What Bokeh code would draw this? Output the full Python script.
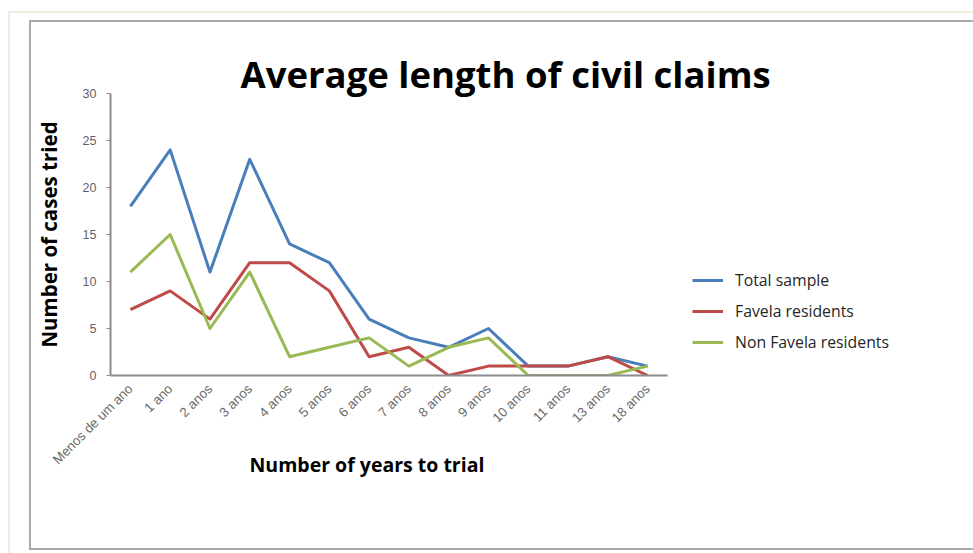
from math import pi

from bokeh.embed import file_html
from bokeh.models import (FixedTicker, InlineStyleSheet, Legend, LegendItem,
                          Range1d, Title)
from bokeh.plotting import figure
from bokeh.resources import INLINE

# Time to trial buckets
categories = ["Menos de um ano", "1 ano", "2 anos", "3 anos", "4 anos", "5 anos",
              "6 anos", "7 anos", "8 anos", "9 anos", "10 anos", "11 anos",
              "13 anos", "18 anos"]

# Number of cases tried per bucket
total_sample = [18, 24, 11, 23, 14, 12, 6, 4, 3, 5, 1, 1, 2, 1]
favela_residents = [7, 9, 6, 12, 12, 9, 2, 3, 0, 1, 1, 1, 2, 0]
non_favela_residents = [11, 15, 5, 11, 2, 3, 4, 1, 3, 4, 0, 0, 0, 1]

y_ticks = [0, 5, 10, 15, 20, 25, 30]

W, H = 973, 553
LEFT, TOP, BOTTOM = 110, 93, 375
AXIS_END = 667            # where the category axis stops
LEGEND_X, LEGEND_BOTTOM = 692, 353

positions = list(range(len(categories)))
x_lo, x_hi = -0.5, len(categories) - 0.5
# the plotting frame runs to the right edge so the legend can sit beside the axis
x_end = x_lo + (x_hi - x_lo) * (W - LEFT) / (AXIS_END - LEFT)

# thin page frames drawn around the chart area
frames = InlineStyleSheet(css="""
:host { position: relative; }
:host::before {
  content: ""; position: absolute; left: 8px; top: 11px; right: 0; bottom: 0;
  border-left: 2px solid #efede2; border-top: 2px solid #efede2;
  pointer-events: none; z-index: 10;
}
:host::after {
  content: ""; position: absolute; left: 29px; top: 20px; right: 0; height: 526px;
  border-left: 2px solid #a9a9a9; border-top: 2px solid #a9a9a9;
  border-bottom: 2px solid #a9a9a9;
  pointer-events: none; z-index: 10;
}
""")

p = figure(
    x_range=Range1d(x_lo, x_end), y_range=Range1d(0, 30),
    width=W, height=H,
    output_backend="svg", toolbar_location=None,
    min_border_left=LEFT, min_border_right=0,
    min_border_top=TOP, min_border_bottom=H - BOTTOM,
    background_fill_color="white", border_fill_color="white",
    stylesheets=[frames],
)
p.outline_line_color = None
p.grid.visible = False

series = [
    ("Total sample", total_sample, "#4a7ebb"),
    ("Favela residents", favela_residents, "#be4b48"),
    ("Non Favela residents", non_favela_residents, "#98b954"),
]
items = []
for name, vals, color in series:
    r = p.line(positions, vals, line_color=color, line_width=3, line_join="round")
    items.append(LegendItem(label=name, renderers=[r]))

axis_color = "#8c8c8c"
tick_font = "Liberation Sans"
heading_font = "Open Sans"

p.yaxis.ticker = FixedTicker(ticks=y_ticks)
p.yaxis.axis_line_color = axis_color
p.yaxis.axis_line_width = 2
p.yaxis.major_tick_line_color = axis_color
p.yaxis.major_tick_out = 4
p.yaxis.major_tick_in = 0
p.yaxis.minor_tick_line_color = None
p.yaxis.major_label_text_font = tick_font
p.yaxis.major_label_text_font_size = "12.5px"
p.yaxis.major_label_text_color = "#5f5f70"
p.yaxis.major_label_standoff = 10
p.yaxis.axis_label = "Number of cases tried"
p.yaxis.axis_label_text_font = heading_font
p.yaxis.axis_label_text_font_style = "bold"
p.yaxis.axis_label_text_font_size = "20.5px"
p.yaxis.axis_label_text_color = "black"
p.yaxis.axis_label_standoff = 17

p.xaxis.ticker = FixedTicker(ticks=positions)
p.xaxis.major_label_overrides = {i: c for i, c in zip(positions, categories)}
p.xaxis.bounds = (x_lo, x_hi)
p.xaxis.axis_line_color = axis_color
p.xaxis.axis_line_width = 2
p.xaxis.major_tick_line_color = None
p.xaxis.minor_tick_line_color = None
p.xaxis.major_label_orientation = pi / 4
p.xaxis.major_label_text_font = tick_font
p.xaxis.major_label_text_font_size = "13.3px"
p.xaxis.major_label_text_color = "#6b6b6b"
p.xaxis.major_label_standoff = 5

p.title.text = "Average length of civil claims"
p.title.text_font = heading_font
p.title.text_font_style = "bold"
p.title.text_font_size = "36.5px"
p.title.text_color = "black"
p.title.align = "left"
p.title.offset = 240 - LEFT
p.title.standoff = -10

p.add_layout(Title(text="Number of years to trial", align="left",
                   vertical_align="top",
                   offset=249 - LEFT, standoff=-50,
                   text_font=heading_font, text_font_style="bold",
                   text_font_size="19.5px", text_color="black"), "below")

legend = Legend(items=items, location=(LEGEND_X - LEFT, BOTTOM - LEGEND_BOTTOM),
                orientation="vertical")
legend.border_line_color = None
legend.background_fill_alpha = 0
legend.padding = 0
legend.margin = 0
legend.spacing = 9
legend.label_height = 22
legend.glyph_height = 22
legend.glyph_width = 31
legend.label_standoff = 12
legend.label_text_font = heading_font
legend.label_text_font_size = "15.8px"
legend.label_text_color = "#262626"
p.add_layout(legend, "center")

open("out.html", "w").write(file_html(p, INLINE))
